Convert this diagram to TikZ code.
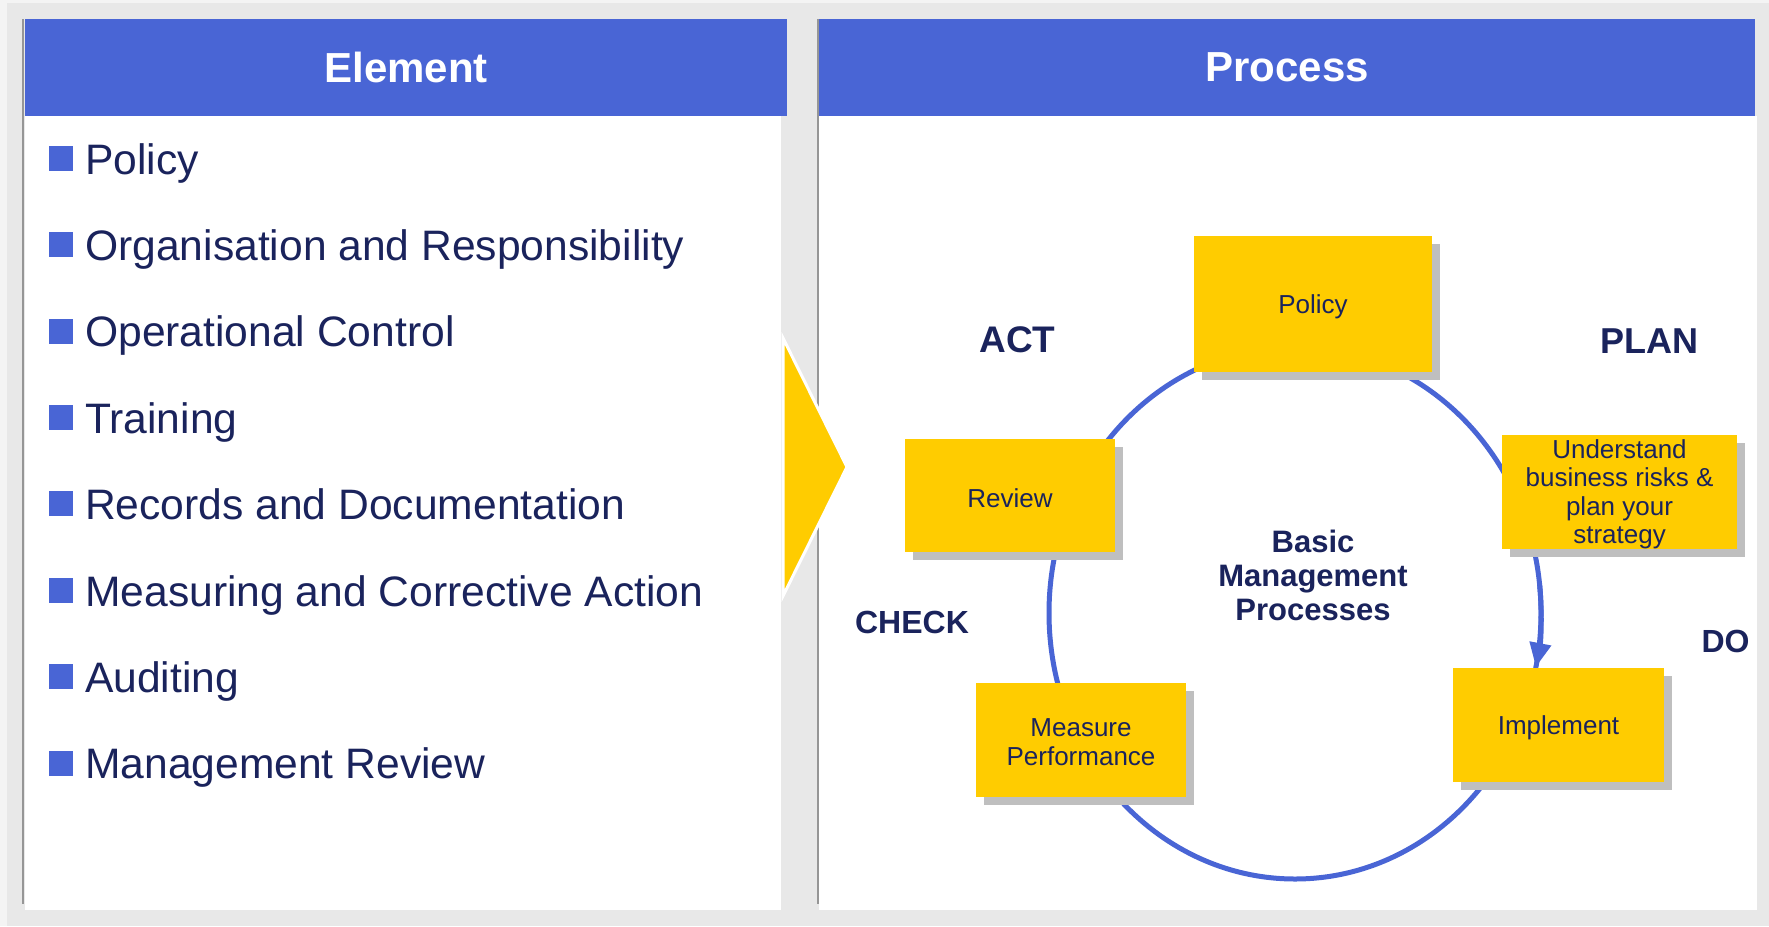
\documentclass[tikz,border=0pt]{standalone}
\usepackage{fontspec}
\setmainfont{Liberation Sans}
\usetikzlibrary{shadows,arrows.meta}
\definecolor{hdrblue}{RGB}{73,101,213}
\definecolor{navy}{RGB}{26,35,92}
\definecolor{gold}{RGB}{255,204,0}
\definecolor{bggray}{RGB}{232,232,232}
\definecolor{lightgray2}{RGB}{244,244,244}
\definecolor{shadegray}{RGB}{191,191,191}
\definecolor{edgegray}{RGB}{150,150,150}
\begin{document}
\begin{tikzpicture}[x=1pt,y=-1pt,
  hdr/.style={fill=hdrblue, inner sep=0pt, text=white, font=\bfseries\fontsize{42}{50}\selectfont},
  itemtext/.style={anchor=base west, inner sep=0pt, text=navy, font=\fontsize{42.6}{50}\selectfont},
  bulletsq/.style={fill=hdrblue, minimum width=24pt, minimum height=25pt, inner sep=0pt, anchor=south west},
  ybox/.style={fill=gold, inner sep=0pt,
    drop shadow={shadow xshift=8pt, shadow yshift=-8pt, fill=shadegray, opacity=1}},
  boxtext/.style={inner sep=0pt, align=center, text=navy, font=\fontsize{26}{28.5}\selectfont},
  phase/.style={anchor=base, inner sep=0pt, text=navy, font=\bfseries\fontsize{32}{38}\selectfont},
  ring/.style={draw=hdrblue, line width=5pt}
]
\useasboundingbox (0,0) rectangle (1769,926);
% background
\fill[lightgray2] (0,0) rectangle (1769,926);
\fill[bggray] (7,3) rectangle (1769,926);
% left panel
\fill[white] (25,116) rectangle (781,910);
\draw[edgegray, line width=2pt] (23,19) -- (23,904);
\node[hdr, minimum width=762pt, minimum height=97pt] (elhdr) at (406,67.5) {Element};
% right panel
\fill[white] (819,116) rectangle (1757,910);
\draw[edgegray, line width=2pt] (818,19) -- (818,904);
\node[hdr, minimum width=936pt, minimum height=97pt] (prhdr) at (1287,67.5) {Process};
% list
\foreach \t [count=\i] in {Policy, Organisation and Responsibility, Operational Control, Training, Records and Documentation, Measuring and Corrective Action, Auditing, Management Review}{
  \node[bulletsq] (b\i) at (49,{174+86.4*(\i-1)-3}) {};
  \node[itemtext] (it\i) at (85,{174+86.4*(\i-1)}) {\t};
}
% chevron
\fill[gold, draw=white, line width=3pt] (783,338) -- (847,467) -- (783,596) -- cycle;
% cycle ring
\coordinate (cc) at (1295,613);
\draw[ring] (cc) ellipse [x radius=246pt, y radius=266pt];
\coordinate (as) at ([shift={(6:246pt and 266pt)}]cc);
\draw[ring, -{Triangle[length=24pt,width=21pt]}] (as) arc[start angle=6, end angle=-11.7, x radius=246pt, y radius=266pt];
% boxes
\node[ybox, minimum width=238pt, minimum height=136pt] (policy) at (1313,304) {};
\node[ybox, minimum width=210pt, minimum height=113pt] (review) at (1010,495.5) {};
\node[ybox, minimum width=235pt, minimum height=114pt] (understand) at (1619.5,492) {};
\node[ybox, minimum width=211pt, minimum height=114pt] (implement) at (1558.5,725) {};
\node[ybox, minimum width=210pt, minimum height=114pt] (measure) at (1081,740) {};
\node[boxtext] (policyT) at ([yshift=-3pt]policy.center) {Policy};
\node[boxtext] (reviewT) at ([yshift=-2.5pt]review.center) {Review};
\node[boxtext] (understandT) at ([yshift=-2.5pt]understand.center) {Understand\\business risks \&\\plan your\\strategy};
\node[boxtext] (implementT) at ([yshift=-3pt]implement.center) {Implement};
\node[boxtext] (measureT) at ([yshift=-2pt]measure.center) {Measure\\Performance};
% centre text
\node[inner sep=0pt, align=center, text=navy, font=\bfseries\fontsize{31}{34}\selectfont] (basic) at (1313,575) {Basic\\Management\\Processes};
% phase labels
\node[phase, font=\bfseries\fontsize{37}{44}\selectfont] (act) at (1017.5,352) {ACT};
\node[phase, font=\bfseries\fontsize{36}{43}\selectfont] (plan) at (1649.5,353.5) {PLAN};
\node[phase] (check) at (912,633) {CHECK};
\node[phase] (do) at (1725.5,652) {DO};
\end{tikzpicture}
\end{document}
